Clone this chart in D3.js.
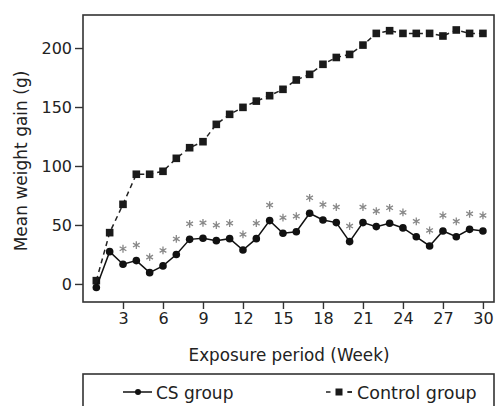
<!DOCTYPE html>
<html>
<head>
<meta charset="utf-8">
<script src="https://cdn.jsdelivr.net/npm/d3@7"></script>
<style>
  body { margin: 0; background: #fff; }
  text { font-family: "DejaVu Sans", sans-serif; fill: #222; }
</style>
</head>
<body>
<svg width="496" height="406"></svg>
<script>
(function (d3) {
  'use strict'

  // datos
  const weeks = d3.range(1, 31);
  const csGroup = [-3, 27.4, 16.7, 19.8, 9.6, 15.3, 25, 37.8, 38.7, 36.7,
    38.4, 28.8, 38.4, 53.7, 43, 44.3, 59.9, 54.2, 52, 35.9,
    52, 48.6, 51.4, 47.5, 40, 32.2, 44.9, 40, 46.3, 44.9];
  const controlGroup = [2.8, 43.5, 67.5, 93, 93, 95.5, 106.5, 115.5, 120.6, 135.3,
    143.8, 149.7, 155, 159.6, 165, 172.9, 177.7, 186.2, 192, 194.6,
    202.5, 212.4, 214.7, 212.4, 212.4, 212.4, 210.2, 215.3, 212.4, 212.4];
  const signifWeeks = d3.range(3, 31); // semanas con asterisco
  const xTicks = [3, 6, 9, 12, 15, 18, 21, 24, 27, 30];
  const yTicks = [0, 50, 100, 150, 200];

  const svg = d3.select('svg');
  const fuente = '"DejaVu Sans", sans-serif';
  const margin = { top: 15, left: 83, right: 2, bottom: 104 };
  const ancho = 496, altura = 406;

  const xScale = d3.scaleLinear().domain([0, 30.83]).range([margin.left, ancho - margin.right]);
  const yScale = d3.scaleLinear().domain([-15.3, 228]).range([altura - margin.bottom, margin.top]);

  // ejes
  const xEje = svg.append('g')
    .attr('transform', `translate(0, ${altura - margin.bottom})`)
    .call(d3.axisBottom(xScale).tickValues(xTicks).tickSize(7).tickPadding(4).tickSizeOuter(0));
  const yEje = svg.append('g')
    .attr('transform', `translate(${margin.left}, 0)`)
    .call(d3.axisLeft(yScale).tickValues(yTicks).tickSize(8).tickPadding(3).tickSizeOuter(0));
  [xEje, yEje].forEach(g => {
    g.select('.domain').remove();
    g.selectAll('.tick line').attr('stroke', '#333').attr('stroke-width', 1.4);
    g.selectAll('.tick text').attr('font-size', 16).attr('font-family', fuente).attr('fill', '#222');
  });

  // marco
  svg.append('rect')
    .attr('x', margin.left).attr('y', margin.top)
    .attr('width', ancho - margin.right - margin.left)
    .attr('height', altura - margin.bottom - margin.top)
    .attr('fill', 'none').attr('stroke', '#333').attr('stroke-width', 1.6);

  // titulos de ejes
  svg.append('text')
    .attr('x', 289).attr('y', 361)
    .attr('text-anchor', 'middle').attr('font-size', 16.8)
    .text('Exposure period (Week)');
  svg.append('text')
    .attr('transform', 'translate(27, 161) rotate(-90)')
    .attr('text-anchor', 'middle').attr('font-size', 17)
    .text('Mean weight gain (g)');

  const linea = d3.line().x((d, i) => xScale(weeks[i])).y(d => yScale(d));

  // grupo control
  svg.append('path').datum(controlGroup)
    .attr('d', linea).attr('fill', 'none')
    .attr('stroke', '#222').attr('stroke-width', 1.5).attr('stroke-dasharray', '5,4');
  svg.selectAll('rect.ctl').data(controlGroup).enter().append('rect')
    .attr('class', 'ctl')
    .attr('x', (d, i) => xScale(weeks[i]) - 3.8)
    .attr('y', d => yScale(d) - 3.8)
    .attr('width', 7.6).attr('height', 7.6).attr('fill', '#1a1a1a');

  // grupo CS
  svg.append('path').datum(csGroup)
    .attr('d', linea).attr('fill', 'none')
    .attr('stroke', '#111').attr('stroke-width', 1.5);
  svg.selectAll('circle.cs').data(csGroup).enter().append('circle')
    .attr('class', 'cs')
    .attr('cx', (d, i) => xScale(weeks[i]))
    .attr('cy', d => yScale(d))
    .attr('r', 3.8).attr('fill', '#111');

  // asteriscos
  const asterisco = d3.symbol().type(d3.symbolAsterisk).size(42);
  svg.selectAll('path.ast').data(signifWeeks).enter().append('path')
    .attr('class', 'ast')
    .attr('d', asterisco)
    .attr('transform', w => `translate(${xScale(w)}, ${yScale(csGroup[w - 1]) - 15.5})`)
    .attr('fill', 'none').attr('stroke', '#888').attr('stroke-width', 1.3);

  // leyenda
  const ley = svg.append('g');
  const leyY = 392;
  ley.append('rect')
    .attr('x', margin.left).attr('y', 374).attr('width', ancho - margin.right - margin.left).attr('height', 60)
    .attr('fill', 'none').attr('stroke', '#333').attr('stroke-width', 1.6);
  ley.append('line').attr('x1', 123).attr('x2', 152).attr('y1', leyY).attr('y2', leyY)
    .attr('stroke', '#111').attr('stroke-width', 1.5);
  ley.append('circle').attr('cx', 138).attr('cy', leyY).attr('r', 3).attr('fill', '#111');
  ley.append('text').attr('x', 156).attr('y', leyY + 6.5).attr('font-size', 17).text('CS group');
  ley.append('line').attr('x1', 326).attr('x2', 352).attr('y1', leyY).attr('y2', leyY)
    .attr('stroke', '#222').attr('stroke-width', 1.5).attr('stroke-dasharray', '4.5,17');
  ley.append('line').attr('x1', 347.5).attr('x2', 352).attr('y1', leyY).attr('y2', leyY)
    .attr('stroke', '#222').attr('stroke-width', 1.5);
  ley.append('rect').attr('x', 335.5).attr('y', leyY - 3.5).attr('width', 7).attr('height', 7).attr('fill', '#1a1a1a');
  ley.append('text').attr('x', 357).attr('y', leyY + 6.5).attr('font-size', 17.5).text('Control group');

}(d3));
</script>
</body>
</html>
